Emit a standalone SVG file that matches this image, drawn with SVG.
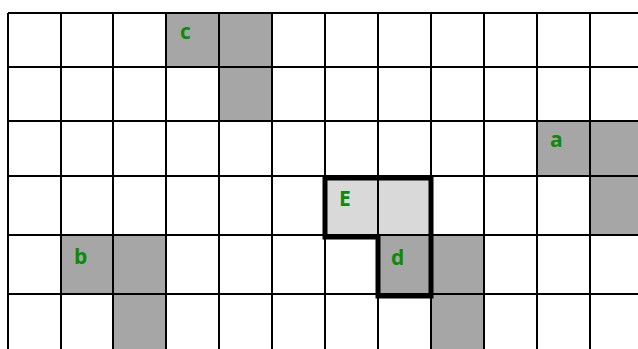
<svg xmlns="http://www.w3.org/2000/svg" width="638" height="349" viewBox="0 0 638 349">
<style>
.dk{fill:#a6a6a6}
.lt{fill:#d9d9d9}
.gl{stroke:#000;stroke-width:2;fill:none}
.lb{font-family:"Open Sans","Liberation Sans",sans-serif;font-weight:bold;font-size:21px;fill:#0b8a0b}
</style>
<rect x="0" y="0" width="638" height="349" fill="#fff"/>
<g id="cell-c"><rect class="dk" x="166" y="13" width="53" height="54"/><rect class="dk" x="219" y="13" width="53" height="54"/><rect class="dk" x="219" y="67" width="53" height="54"/></g>
<g id="cell-a"><rect class="dk" x="537" y="121" width="53" height="55"/><rect class="dk" x="590" y="121" width="48" height="55"/><rect class="dk" x="590" y="176" width="48" height="59"/></g>
<g id="cell-b"><rect class="dk" x="61" y="235" width="52" height="59"/><rect class="dk" x="113" y="235" width="53" height="59"/><rect class="dk" x="113" y="294" width="53" height="55"/></g>
<g id="cell-E"><rect class="lt" x="325" y="176" width="53" height="59"/><rect class="lt" x="378" y="176" width="53" height="59"/></g>
<g id="cell-d"><rect class="dk" x="378" y="235" width="53" height="59"/><rect class="dk" x="431" y="235" width="53" height="59"/><rect class="dk" x="431" y="294" width="53" height="55"/></g>
<g id="grid" class="gl">
<path d="M8 13V349M61 13V349M113 13V349M166 13V349M219 13V349M272 13V349M325 13V349M378 13V349M431 13V349M484 13V349M537 13V349M590 13V349"/>
<path d="M8 13H638M8 67H638M8 121H638M8 176H638M8 235H638M8 294H638"/>
</g>
<g id="connectors"><polygon points="325,178 431,178 431,296 378,296 378,237 325,237" fill="none" stroke="#000" stroke-width="5"/></g>
<g id="labels">
<text class="lb" x="180" y="39">c</text>
<text class="lb" x="550" y="146.5">a</text>
<text class="lb" x="74" y="264">b</text>
<text class="lb" x="339" y="205.5">E</text>
<text class="lb" x="391" y="265">d</text>
</g>
</svg>
